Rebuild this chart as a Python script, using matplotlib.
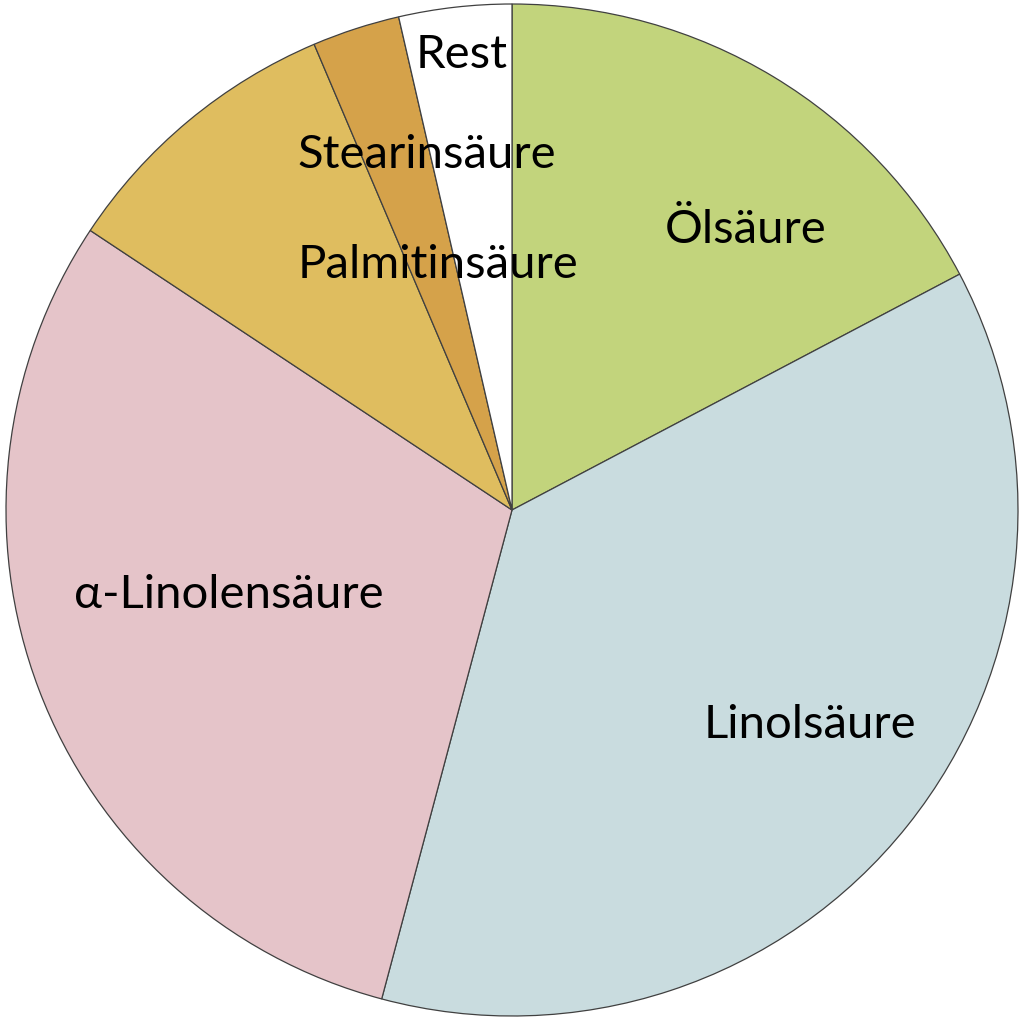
import matplotlib
matplotlib.use("Agg")
import matplotlib.pyplot as plt

plt.rcParams['font.family'] = ['Lato', 'DejaVu Sans']

# Fettsäurezusammensetzung (Anteile in %)
labels = ['Ölsäure', 'Linolsäure', 'α-Linolensäure', 'Palmitinsäure', 'Stearinsäure', 'Rest']
values = [17.3, 36.9, 30.2, 9.3, 2.8, 3.6]
colors = ['#c2d47c', '#c9dcdf', '#e5c4c9', '#dfbd5f', '#d5a24a', '#ffffff']

# label positions in pixel coords of the 1024px image
label_px = [(746, 230), (810, 725), (229, 595), (438, 265), (427, 155), (462, 55)]

cx, cy, r = 512, 510, 506

fig = plt.figure(figsize=(10.24, 10.24), dpi=100)
ax = fig.add_axes([0, 0, 1, 1])
ax.pie(values, colors=colors, startangle=90, counterclock=False, radius=1,
       wedgeprops=dict(edgecolor='#404040', linewidth=0.9))
ax.set_xlim(-cx / r, (1024 - cx) / r)
ax.set_ylim(-(1024 - cy) / r, cy / r)
ax.set_aspect('equal')
ax.axis('off')

for lab, (px, py) in zip(labels, label_px):
    ax.text((px - cx) / r, (cy - py) / r, lab, ha='center', va='center',
            fontsize=34, color='black')

fig.savefig('out.png', dpi=100)
